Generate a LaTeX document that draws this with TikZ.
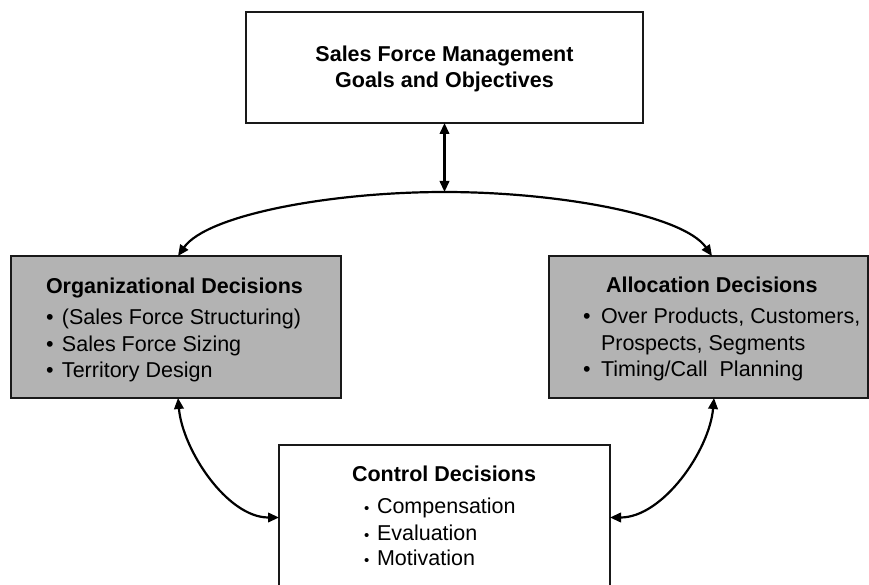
\documentclass[tikz,border=0pt]{standalone}
\usepackage{fontspec}
\setmainfont{Liberation Sans}
\usetikzlibrary{arrows.meta}
\definecolor{boxgray}{RGB}{179,179,179}
\definecolor{edge}{RGB}{25,25,25}
\newcommand\mybul[1]{\makebox[#1][l]{•}}
\newcommand\mysmallbul[1]{\makebox[#1][l]{\fontsize{15}{15}\selectfont •}}
\begin{document}
\begin{tikzpicture}[x=1pt,y=1pt,
  box/.style={draw=edge,line width=1.4pt,inner sep=0pt,outer sep=0pt},
  txt/.style={anchor=base west,inner sep=0pt,outer sep=0pt,font=\fontsize{21.5}{26}\selectfont},
  ttl/.style={txt,font=\fontsize{21.5}{26}\selectfont\bfseries},
  conn/.style={line width=2.2pt,{Triangle[length=11pt,width=9.5pt]}-{Triangle[length=11pt,width=9.5pt]}}
]
\useasboundingbox (0,0) rectangle (869,-585);
\clip (0,0) rectangle (869,-585);

% boxes
\node[box,fill=white,minimum width=397pt,minimum height=111pt] (top) at (444.5,-67.5) {};
\node[box,fill=boxgray,minimum width=330pt,minimum height=142pt] (lbox) at (176,-327) {};
\node[box,fill=boxgray,minimum width=319pt,minimum height=142pt] (rbox) at (708.5,-327) {};
\node[box,fill=white,minimum width=331pt,minimum height=145pt] (cbox) at (444.5,-517.5) {};

% top text
\node[ttl,anchor=base] (t1) at (444.5,-62) {Sales Force Management};
\node[ttl,anchor=base] (t2) at (444.5,-88) {Goals and Objectives};

% left text
\node[ttl] (l0) at (46,-293) {Organizational Decisions};
\node[txt] (l1) at (46,-324) {\mybul{16pt}(Sales Force Structuring)};
\node[txt] (l2) at (46,-351) {\mybul{16pt}Sales Force Sizing};
\node[txt] (l3) at (46,-377) {\mybul{16pt}Territory Design};

% right text
\node[ttl] (r0) at (606,-292) {Allocation Decisions};
\node[txt] (r1) at (583,-323) {\mybul{18pt}Over Products, Customers,};
\node[txt] (r2) at (601,-350) {Prospects, Segments};
\node[txt] (r3) at (583,-376) {\mybul{18pt}Timing/Call\ \ Planning};

% bottom text
\node[ttl] (c0) at (352,-481) {Control Decisions};
\node[txt] (c1) at (364,-513) {\mysmallbul{13pt}Compensation};
\node[txt] (c2) at (364,-540) {\mysmallbul{13pt}Evaluation};
\node[txt] (c3) at (364,-565) {\mysmallbul{13pt}Motivation};

% connectors
\coordinate (j) at (444.5,-192);
\coordinate (la) at ([xshift=2pt]lbox.north);
\coordinate (ra) at ([xshift=3.5pt]rbox.north);
\draw[conn] (top.south) -- (j);
\draw[conn] (la) .. controls ([shift={(28.7pt,41pt)}]la) and (330,-192) .. (j)
                 .. controls (559,-192) and ([shift={(-28.7pt,41pt)}]ra) .. (ra);
\draw[conn] ([xshift=2pt]lbox.south) to[out=-85,in=180,looseness=0.85] (cbox.west);
\draw[conn] ([xshift=5.5pt]rbox.south) to[out=-95,in=0,looseness=0.85] (cbox.east);
\end{tikzpicture}
\end{document}
